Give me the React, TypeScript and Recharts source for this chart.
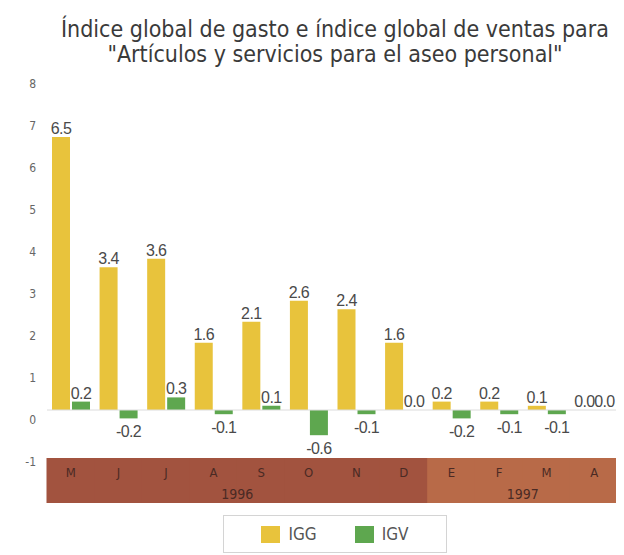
import { BarChart, Bar, XAxis, YAxis, Legend, LabelList, ReferenceLine } from 'recharts'

const meses = ['M', 'J', 'J', 'A', 'S', 'O', 'N', 'D', 'E', 'F', 'M', 'A']
const igg = [6.5, 3.4, 3.6, 1.6, 2.1, 2.6, 2.4, 1.6, 0.2, 0.2, 0.1, 0.0]
const igv = [0.2, -0.2, 0.3, -0.1, 0.1, -0.6, -0.1, 0.0, -0.2, -0.1, -0.1, 0.0]
const anios = ['1996', '1997']
const mesesPorAnio = [8, 4]
const yTicks = [-1, 0, 1, 2, 3, 4, 5, 6, 7, 8]

const W = 616
const H = 547
const M_LEFT = 0
const M_RIGHT = 6
const Y_W = 39
const BW = (W - M_LEFT - M_RIGHT - Y_W) / meses.length

const AMARILLO = '#e8c33c'
const VERDE = '#5ea74f'
const BANDA = ['#a2533f', '#b86a48']
const COND = '"DejaVu Sans", sans-serif'

const data = meses.map((mes, i) => ({ mes, IGG: igg[i], IGV: igv[i] }))

function grupoDe(i: number) {
  let start = 0
  for (let g = 0; g < mesesPorAnio.length; g++) {
    if (i < start + mesesPorAnio[g]) return g
    start += mesesPorAnio[g]
  }
  return 0
}

function MesTick(props: any) {
  const { x, y, payload, index } = props
  const g = grupoDe(index)
  // los rótulos de año se dibujan con el último tick, encima de toda la banda
  let years: any[] = []
  if (index === meses.length - 1) {
    let start = 0
    years = anios.map((a, k) => {
      const centro = start + (mesesPorAnio[k] - 1) / 2
      start += mesesPorAnio[k]
      return (
        <text key={a} x={x + (centro - index) * BW} y={y + 47} textAnchor="middle" fontSize={14}
          fill="#4a2a24" fontFamily={COND} style={{ fontStretch: 'condensed' }}>
          {a}
        </text>
      )
    })
  }
  return (
    <g>
      <rect x={x - BW / 2 - 0.5} y={y + 6} width={BW + 1} height={45} fill={BANDA[g]} />
      <text x={x} y={y + 25} textAnchor="middle" fontSize={13} fill="#4a2a24" fontFamily={COND} style={{ fontStretch: 'condensed' }}>
        {payload.value}
      </text>
      {years}
    </g>
  )
}

function ValorTick(props: any) {
  const { x, y, payload } = props
  return (
    <text x={x} y={y + 14} textAnchor="end" fontSize={12} fill="#666" fontFamily={COND} style={{ fontStretch: 'condensed' }}>
      {payload.value}
    </text>
  )
}

function Etiqueta(props: any) {
  const { x, y, width, height, value } = props
  const top = Math.min(y, y + height)
  const bottom = Math.max(y, y + height)
  const neg = value < 0
  return (
    <text
      x={x + width / 2}
      y={neg ? bottom + 19 : top - 3}
      textAnchor="middle"
      fontSize={16}
      letterSpacing={-0.6}
      fill="#4a4a4a"
      fontFamily='"Liberation Sans", Arial, sans-serif'
    >
      {Number(value).toFixed(1)}
    </text>
  )
}

function Leyenda() {
  const items = [
    { name: 'IGG', color: AMARILLO },
    { name: 'IGV', color: VERDE },
  ]
  return (
    <div style={{ paddingTop: 3 }}>
      <div
        style={{
          width: 224,
          height: 38,
          boxSizing: 'border-box',
          border: '1px solid #d4d4d4',
          background: '#fff',
          display: 'flex',
          alignItems: 'center',
          justifyContent: 'center',
          gap: 38,
          fontFamily: COND,
          fontStretch: 'condensed',
          fontSize: 17,
          color: '#555',
        }}
      >
        {items.map(it => (
          <div key={it.name} style={{ display: 'flex', alignItems: 'center', gap: 8 }}>
            <span style={{ display: 'inline-block', width: 19, height: 17, background: it.color }} />
            <span>{it.name}</span>
          </div>
        ))}
      </div>
    </div>
  )
}

// evita que Recharts descarte las barras de valor 0 (y sus etiquetas 0.0)
const minCero = (v: any) => (v === 0 ? 0.01 : 0)

export default function App() {
  return (
    <div style={{ position: 'relative', width: W, height: H, background: '#fff' }}>
      <div
        style={{
          position: 'absolute',
          left: 327,
          top: 9,
          transform: 'translateX(-50%)',
          whiteSpace: 'nowrap',
          textAlign: 'center',
          fontFamily: COND,
          fontStretch: 'condensed',
          fontSize: 23,
          lineHeight: '25px',
          color: '#3a3a3a',
        }}
      >
        <div>Índice global de gasto e índice global de ventas para</div>
        <div>"Artículos y servicios para el aseo personal"</div>
      </div>
      <BarChart
        width={W}
        height={H}
        data={data}
        margin={{ top: 66, right: M_RIGHT, left: M_LEFT, bottom: 2 }}
        barSize={18}
        barGap={2}
      >
        <XAxis dataKey="mes" axisLine={false} tickLine={false} tickSize={0} tickMargin={0} height={60} interval={0} tick={<MesTick />} />
        <YAxis
          domain={[-1, 8]}
          ticks={yTicks}
          width={Y_W}
          axisLine={false}
          tickLine={false}
          tickMargin={5}
          tick={<ValorTick />}
          interval={0}
        />
        <ReferenceLine y={0} stroke="#dcdcdc" />
        <Legend verticalAlign="bottom" align="left" wrapperStyle={{ left: 215, width: 224 }} content={<Leyenda />} />
        <Bar dataKey="IGG" fill={AMARILLO} minPointSize={minCero} isAnimationActive={false}>
          <LabelList dataKey="IGG" content={<Etiqueta />} />
        </Bar>
        <Bar dataKey="IGV" fill={VERDE} minPointSize={minCero} isAnimationActive={false}>
          <LabelList dataKey="IGV" content={<Etiqueta />} />
        </Bar>
      </BarChart>
    </div>
  )
}
